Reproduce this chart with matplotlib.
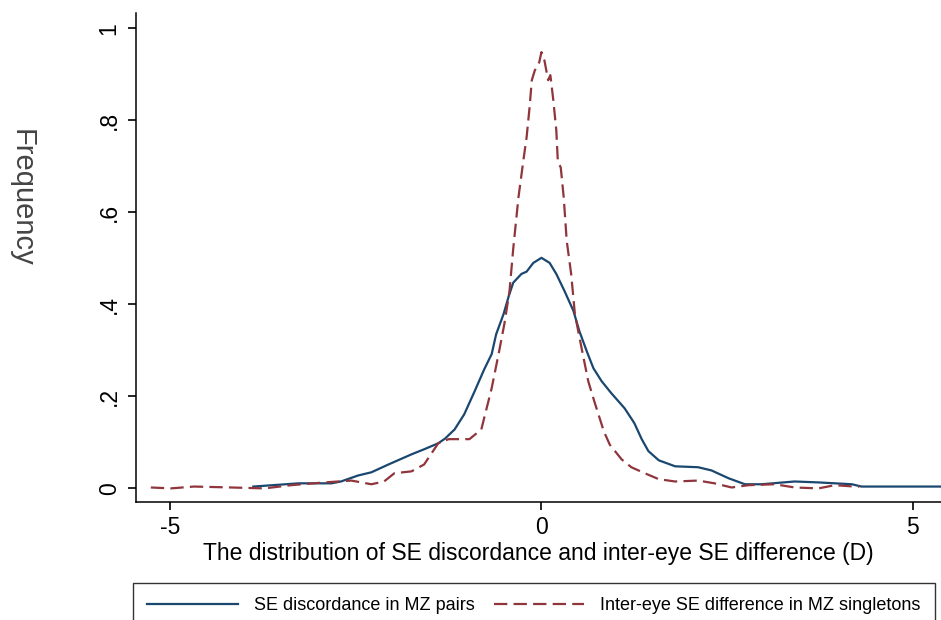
import numpy as np
import matplotlib.pyplot as plt

# kernel density curves
pairs_x = [-3.88, -3.27, -2.83, -2.70, -2.47, -2.29, -2.06, -1.75, -1.58, -1.39,
           -1.30, -1.17, -1.04, -0.90, -0.77, -0.67, -0.61, -0.51, -0.44, -0.38,
           -0.27, -0.20, -0.11, 0.0, 0.11, 0.20, 0.31, 0.43, 0.51, 0.61,
           0.70, 0.81, 0.94, 1.12, 1.25, 1.35, 1.44, 1.58, 1.80, 2.11,
           2.29, 2.52, 2.74, 2.96, 3.41, 3.73, 4.18, 4.31, 5.39]
pairs_y = [0.004, 0.011, 0.011, 0.015, 0.028, 0.035, 0.052, 0.074, 0.085, 0.098,
           0.108, 0.128, 0.161, 0.211, 0.259, 0.292, 0.335, 0.379, 0.418, 0.447,
           0.466, 0.471, 0.490, 0.501, 0.490, 0.466, 0.429, 0.386, 0.342, 0.298,
           0.261, 0.233, 0.207, 0.174, 0.142, 0.107, 0.081, 0.061, 0.048, 0.046,
           0.039, 0.022, 0.009, 0.009, 0.015, 0.013, 0.009, 0.004, 0.004]

single_x = [-5.26, -4.99, -4.68, -4.18, -3.73, -3.37, -2.92, -2.56, -2.29, -2.12,
            -1.98, -1.75, -1.58, -1.39, -1.25, -0.97, -0.81, -0.67, -0.57, -0.50,
            -0.43, -0.38, -0.31, -0.24, -0.20, -0.16, -0.13, -0.09, -0.03, 0.0,
            0.04, 0.09, 0.12, 0.16, 0.20, 0.22, 0.26, 0.30, 0.34, 0.40,
            0.45, 0.54, 0.63, 0.71, 0.84, 0.92, 1.08, 1.21, 1.39, 1.58,
            1.80, 2.11, 2.33, 2.56, 2.79, 3.14, 3.41, 3.73, 3.95, 4.22, 4.28]
single_y = [0.002, 0.0, 0.004, 0.002, 0.0, 0.007, 0.013, 0.017, 0.009, 0.015,
            0.033, 0.037, 0.052, 0.098, 0.107, 0.107, 0.128, 0.218, 0.298, 0.357,
            0.429, 0.521, 0.632, 0.717, 0.763, 0.828, 0.887, 0.908, 0.926, 0.948,
            0.930, 0.887, 0.898, 0.843, 0.778, 0.712, 0.697, 0.632, 0.538, 0.466,
            0.379, 0.305, 0.233, 0.190, 0.124, 0.095, 0.063, 0.046, 0.033, 0.020,
            0.015, 0.017, 0.011, 0.002, 0.007, 0.009, 0.002, 0.0, 0.007, 0.004, 0.004]

x_ticks = [-5, 0, 5]
y_ticks = [0, 0.2, 0.4, 0.6, 0.8, 1.0]
y_tick_labels = ["0", ".2", ".4", ".6", ".8", "1"]

plt.rcParams["font.family"] = ["Liberation Sans", "DejaVu Sans"]

fig = plt.figure(figsize=(9.41, 6.2), dpi=100)
ax = fig.add_axes([0.1445, 0.19, 0.8555, 0.789])

ax.plot(pairs_x, pairs_y, color="#1a476f", lw=1.6, label="SE discordance in MZ pairs")
ax.plot(single_x, single_y, color="#90353b", lw=1.6, dashes=(6, 2.8),
        label="Inter-eye SE difference in MZ singletons")

ax.set_xlim(-5.46, 5.38)
ax.set_ylim(-0.03, 1.033)
ax.spines["top"].set_visible(False)
ax.spines["right"].set_visible(False)
ax.spines["left"].set_linewidth(1.1)
ax.spines["bottom"].set_linewidth(1.1)

ax.set_xticks(x_ticks)
ax.set_xticklabels([str(t) for t in x_ticks])
ax.set_yticks(y_ticks)
ax.set_yticklabels(y_tick_labels, rotation=90, va="center")
ax.tick_params(axis="both", length=6, width=1.2, labelsize=16.5)
ax.tick_params(axis="x", pad=4)
ax.tick_params(axis="y", pad=5)

ax.set_xlabel("The distribution of SE discordance and inter-eye SE difference (D)",
              fontsize=16.5, labelpad=2)
fig.text(22 / 941, 1 - 198 / 620, "Frequency", fontsize=21, color="#444444",
         rotation=270, ha="center", va="center")

# legend box runs past the bottom edge, as in the reference
leg = fig.legend(loc="upper left",
                 bbox_to_anchor=(133 / 941, -0.1, 802 / 941, 1.1 - 583 / 620),
                 mode="expand", ncol=2, frameon=True, fancybox=False,
                 edgecolor="black", fontsize=13, handlelength=5.0,
                 handletextpad=0.9, borderpad=0.8, borderaxespad=0)
leg.get_frame().set_linewidth(1.0)

fig.savefig("out.png", dpi=100)
